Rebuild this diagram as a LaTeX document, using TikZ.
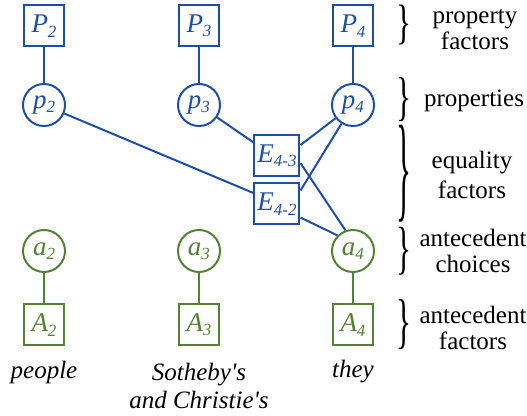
\documentclass[tikz,border=0pt]{standalone}
\usepackage{fontspec}
\usepackage{amsmath}
\usepackage{graphicx}
\setmainfont{Liberation Serif}
\usetikzlibrary{positioning}
\definecolor{propblue}{HTML}{1F4EAA}
\definecolor{antgreen}{HTML}{538135}
\tikzset{
  factorbox/.style={draw, line width=1pt, minimum width=20pt, minimum height=20.5pt,
    inner sep=0pt, font=\fontsize{13.5}{15}\selectfont\itshape},
  eqbox/.style={factorbox, minimum width=22.5pt},
  varcircle/.style={circle, draw, line width=1pt, minimum size=21pt, inner sep=0pt,
    font=\fontsize{13.5}{15}\selectfont\itshape},
  blueish/.style={draw=propblue, text=propblue},
  greenish/.style={draw=antgreen, text=antgreen},
  link/.style={line width=1pt},
  wordlabel/.style={font=\fontsize{12.5}{14}\selectfont\itshape, align=center},
  grouplabel/.style={font=\fontsize{12.5}{13}\selectfont, align=center},
  bracenode/.style={inner sep=0pt, anchor=west},
}
\newcommand{\idx}[1]{\raisebox{-0.35ex}{\fontsize{8.5}{9}\selectfont #1}}
\newcommand{\rbrc}[1]{\resizebox*{7.5pt}{#1}{\fontsize{14}{14}\selectfont\}}}

\begin{document}
\begin{tikzpicture}[x=0.5pt, y=-0.5pt]
\useasboundingbox (0,0) rectangle (527,416);

% property factors and properties
\node[factorbox, blueish] (P2) at (44,26) {P\idx{2}};
\node[factorbox, blueish] (P3) at (199,26) {P\idx{3}};
\node[factorbox, blueish] (P4) at (353,26) {P\idx{4}};
\node[varcircle, blueish] (p2) at (44,105) {p\idx{2}};
\node[varcircle, blueish] (p3) at (199,105) {p\idx{3}};
\node[varcircle, blueish] (p4) at (353,105) {p\idx{4}};

% equality factors
\node[eqbox, blueish] (E43) at (277,156) {E\idx{4-3}};
\node[eqbox, blueish] (E42) at (277,204) {E\idx{4-2}};

% antecedents
\node[varcircle, greenish] (a2) at (44,251) {a\idx{2}};
\node[varcircle, greenish] (a3) at (199,251) {a\idx{3}};
\node[varcircle, greenish] (a4) at (353,251) {a\idx{4}};
\node[factorbox, greenish] (A2) at (44,325) {A\idx{2}};
\node[factorbox, greenish] (A3) at (199,325) {A\idx{3}};
\node[factorbox, greenish] (A4) at (353,325) {A\idx{4}};

% mentions
\node[wordlabel] (w2) at (44,372) {people};
\node[wordlabel] (w3) at (199,386) {Sotheby\textquotesingle s\\and Christie\textquotesingle s};
\node[wordlabel] (w4) at (353,372) {they};

\draw[link, propblue] (P2) -- (p2);
\draw[link, propblue] (P3) -- (p3);
\draw[link, propblue] (P4) -- (p4);
\draw[link, propblue] (p2) -- (E42.155);
\draw[link, propblue] (p3) -- (E43.150);
\draw[link, propblue] (p4) -- (E43.25);
\draw[link, propblue] (p4) -- (E42.30);
\draw[link, propblue] (E43.-17) -- (a4.110);
\draw[link, propblue] (E42.-30) -- (a4.135);
\draw[link, antgreen] (a2) -- (A2);
\draw[link, antgreen] (a3) -- (A3);
\draw[link, antgreen] (a4) -- (A4);

% legend braces
\node[bracenode] (b1) at (396,25) {\rbrc{20pt}};
\node[bracenode] (b2) at (396,100) {\rbrc{22pt}};
\node[bracenode] (b3) at (396,173.5) {\rbrc{48.5pt}};
\node[bracenode] (b4) at (396,251) {\rbrc{24pt}};
\node[bracenode] (b5) at (396,325) {\rbrc{25pt}};
\node[grouplabel] (g1) at (475,30) {property\\factors};
\node[grouplabel] (g2) at (474,101) {properties};
\node[grouplabel, font=\fontsize{12.5}{15}\selectfont] (g3) at (472,175) {equality\\factors};
\node[grouplabel] (g4) at (473,251) {antecedent\\choices};
\node[grouplabel] (g5) at (473,328) {antecedent\\factors};
\end{tikzpicture}
\end{document}
